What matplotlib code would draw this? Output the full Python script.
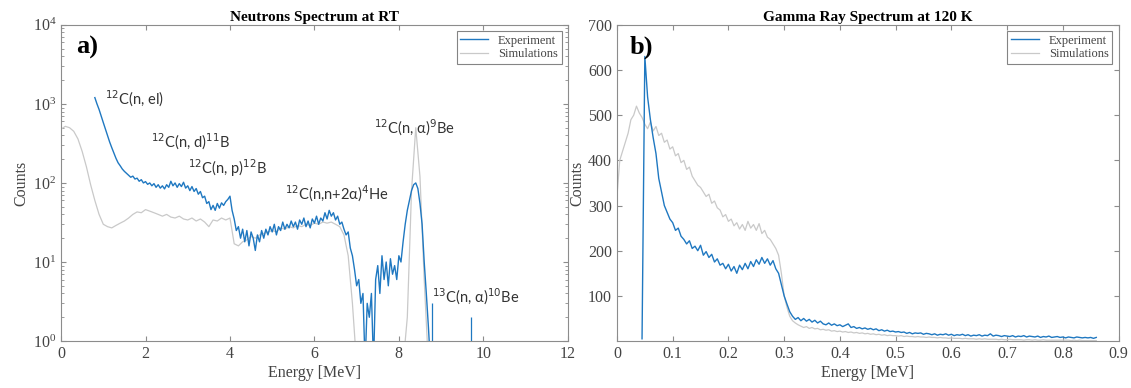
import numpy as np
import matplotlib.pyplot as plt

# ---- neutron spectrum (panel a), counts per 0.05 MeV channel starting at 0.80 MeV
n_exp_start, n_exp_step = 0.80, 0.05
n_exp_counts = [
    1200, 1000, 850, 700, 580, 480, 400, 330, 280, 240,
    205, 180, 165, 150, 140, 132, 125, 118, 122, 112,
    115, 105, 110, 100, 104, 96, 100, 92, 98, 88,
    95, 86, 92, 84, 95, 88, 105, 92, 100, 88,
    98, 90, 102, 86, 92, 80, 90, 78, 85, 72,
    78, 65, 68, 55, 58, 46, 52, 45, 55, 48,
    56, 52, 58, 62, 68, 45, 35, 25, 28, 20,
    26, 18, 25, 16, 24, 20, 14, 22, 18, 25,
    20, 26, 22, 28, 24, 30, 22, 28, 25, 32,
    26, 30, 27, 33, 28, 32, 26, 34, 30, 36,
    28, 33, 27, 35, 31, 38, 30, 36, 33, 42,
    35, 45, 38, 42, 34, 38, 30, 32, 26, 22,
    24, 15, 12, 8, 5, 6, 3, 4, 0.5, 3,
    2, 4, 0.5, 6, 9, 4, 12, 6, 10, 5,
    11, 7, 9, 6, 12, 10, 18, 30, 45, 60,
    80, 95, 100, 85, 55, 30, 10, 4, 1.5, 0.5,
    0.5,
]
n_spike_energy = [8.78, 9.72]
n_spike_counts = [3, 2]

# simulation, 0.1 MeV channels from 0
n_sim_start, n_sim_step = 0.0, 0.1
n_sim_counts = [
    480, 520, 500, 450, 360, 250, 160, 95, 60, 40,
    30, 28, 27, 29, 31, 33, 36, 40, 43, 42,
    46, 44, 42, 40, 38, 40, 37, 36, 38, 35,
    34, 36, 33, 35, 32, 28, 34, 33, 36, 34,
    36, 17, 16, 18, 19, 21, 20, 22, 23, 24,
    25, 24, 27, 26, 28, 27, 29, 28, 30, 29,
    31, 30, 32, 31, 32, 30, 28, 22, 12, 3,
    0.5, 0.5, 0.5, 0.5, 0.5, 0.5, 0.5, 0.5, 0.5, 0.5,
    0.5, 0.5, 2, 80, 500, 120, 6, 0.5, 0.5,
]

# ---- gamma spectrum (panel b), 0.005 MeV channels
g_exp_start, g_exp_step = 0.045, 0.005
g_exp_counts = [
    5, 630, 540, 490, 450, 415, 360, 330, 300, 285,
    270, 262, 245, 250, 232, 225, 215, 222, 205, 210,
    200, 212, 190, 198, 185, 192, 175, 182, 168, 172,
    160, 170, 155, 165, 150, 168, 158, 172, 160, 176,
    165, 180, 170, 185, 172, 182, 168, 178, 160, 150,
    125, 100, 82, 65, 55, 48, 52, 45, 50, 44,
    48, 42, 46, 40, 44, 38, 36, 40, 35, 38,
    34, 36, 32, 35, 38, 30, 32, 28, 30, 27,
    29, 26, 28, 25, 27, 23, 25, 22, 24, 21,
    22, 20, 21, 19, 20, 17, 19, 16, 18, 17,
    18, 15, 17, 16, 14, 16, 13, 15, 14, 16,
    13, 15, 12, 14, 13, 15, 12, 14, 11, 13,
    12, 14, 11, 13, 12, 16, 11, 13, 12, 10,
    12, 11, 10, 12, 9, 11, 10, 12, 9, 11,
    10, 9, 11, 8, 10, 9, 11, 8, 9, 10,
    8, 9, 7, 9, 8, 7, 9, 8, 7, 8,
    7, 8, 6, 8,
]
g_sim_start, g_sim_step = 0.0, 0.005
g_sim_counts = [
    320, 400, 420, 440, 460, 490, 500, 520, 505, 495,
    480, 470, 485, 465, 475, 455, 460, 440, 445, 425,
    430, 410, 415, 395, 400, 380, 385, 365, 355, 345,
    340, 330, 320, 325, 305, 310, 295, 290, 275, 280,
    265, 270, 255, 262, 248, 258, 245, 265, 250, 258,
    245, 260, 238, 245, 230, 225, 215, 205, 190, 150,
    100, 75, 55, 45, 40, 36, 33, 30, 32, 28,
    30, 27, 28, 25, 26, 24, 25, 22, 23, 21,
    22, 20, 21, 19, 20, 18, 19, 17, 18, 16,
    17, 15, 16, 14, 15, 13, 14, 12, 13, 12,
    12, 11, 12, 10, 11, 10, 10, 9, 10, 9,
    9, 8, 9, 8, 8, 7, 8, 7, 7, 6,
    7, 6, 6, 6, 5, 6, 5, 5, 5, 4,
    5, 4, 5, 4, 4, 4, 4, 3, 4, 3,
    3, 4, 3, 3, 3, 3, 2, 3, 3, 2,
    3, 2, 2, 3, 2, 2, 2, 2, 2, 2,
    2, 2, 2, 1, 2, 1, 2, 1, 1, 1,
    1, 1, 1,
]

reactions = [r"$^{12}$C(n, el)", r"$^{12}$C(n, d)$^{11}$B", r"$^{12}$C(n, p)$^{12}$B",
             r"$^{12}$C(n,n+2α)$^{4}$He", r"$^{12}$C(n, α)$^{9}$Be", r"$^{13}$C(n, α)$^{10}$Be"]
reaction_e = [1.05, 2.12, 3.0, 5.3, 7.4, 8.78]
reaction_c = [1150, 330, 155, 72, 500, 3.6]

blue = "#1f78c1"
grey = "#c9c9c9"
frame = "#8c8c8c"
serif = ["Liberation Serif", "DejaVu Serif"]
sans = ["Lato", "DejaVu Sans"]

def channels(start, step, counts):
    return start + step * np.arange(len(counts))

def style(ax):
    for s in ax.spines.values():
        s.set_color(frame)
        s.set_linewidth(0.8)
    ax.tick_params(which="both", direction="in", top=True, right=True, color=frame,
                   labelcolor="#444444", labelsize=11.5)
    for lab in ax.get_xticklabels() + ax.get_yticklabels():
        lab.set_family(serif)

fig = plt.figure(figsize=(11.31, 3.88), dpi=100)
ax1 = fig.add_axes([0.054, 0.121, 0.448, 0.815])
ax2 = fig.add_axes([0.5455, 0.121, 0.4435, 0.815])

# panel a
ax1.plot(channels(n_exp_start, n_exp_step, n_exp_counts), n_exp_counts, color=blue, lw=1.0,
         label="Experiment", zorder=3)
ax1.plot(channels(n_sim_start, n_sim_step, n_sim_counts), n_sim_counts, color=grey, lw=0.9,
         label="Simulations", zorder=2)
ax1.vlines(n_spike_energy, 1, n_spike_counts, color=blue, lw=0.9)
ax1.set_yscale("log")
ax1.set_xlim(0, 12)
ax1.set_ylim(1, 1e4)
ax1.set_xticks([0, 2, 4, 6, 8, 10, 12])
for txt, e, c in zip(reactions, reaction_e, reaction_c):
    ax1.text(e, c, txt, fontsize=10.5, family=sans, color="#333333", va="center", ha="left")
ax1.text(0.03, 0.93, "a)", transform=ax1.transAxes, fontsize=19, fontweight="bold",
         family=serif, va="center")
ax1.set_title("Neutrons Spectrum at RT", fontsize=11, fontweight="bold", family=serif, pad=3)
ax1.set_xlabel("Energy [MeV]", fontsize=11.5, family=serif, color="#444444", labelpad=2)
ax1.set_ylabel("Counts", fontsize=11.5, family=serif, color="#444444", labelpad=2)
style(ax1)

# panel b
ax2.plot(channels(g_exp_start, g_exp_step, g_exp_counts), g_exp_counts, color=blue, lw=1.0,
         label="Experiment", zorder=3)
ax2.plot(channels(g_sim_start, g_sim_step, g_sim_counts), g_sim_counts, color=grey, lw=0.9,
         label="Simulations", zorder=2)
ax2.set_xlim(0, 0.9)
ax2.set_ylim(0, 700)
ax2.set_xticks(np.arange(0, 0.91, 0.1))
ax2.set_xticklabels(["0", "0.1", "0.2", "0.3", "0.4", "0.5", "0.6", "0.7", "0.8", "0.9"])
ax2.set_yticks([100, 200, 300, 400, 500, 600, 700])
ax2.text(0.025, 0.93, "b)", transform=ax2.transAxes, fontsize=19, fontweight="bold",
         family=serif, va="center")
ax2.set_title("Gamma Ray Spectrum at 120 K", fontsize=11, fontweight="bold", family=serif, pad=3)
ax2.set_xlabel("Energy [MeV]", fontsize=11.5, family=serif, color="#444444", labelpad=2)
ax2.set_ylabel("Counts", fontsize=11.5, family=serif, color="#444444", labelpad=2)
style(ax2)

for ax in (ax1, ax2):
    leg = ax.legend(loc="upper right", frameon=True, fancybox=False,
                    handlelength=2.2, borderpad=0.3, labelspacing=0.1, borderaxespad=0.5,
                    prop={"family": serif, "size": 9})
    leg.get_frame().set_edgecolor("#666666")
    leg.get_frame().set_linewidth(0.8)
    for t in leg.get_texts():
        t.set_color("#444444")

fig.savefig("out.png", dpi=100)
